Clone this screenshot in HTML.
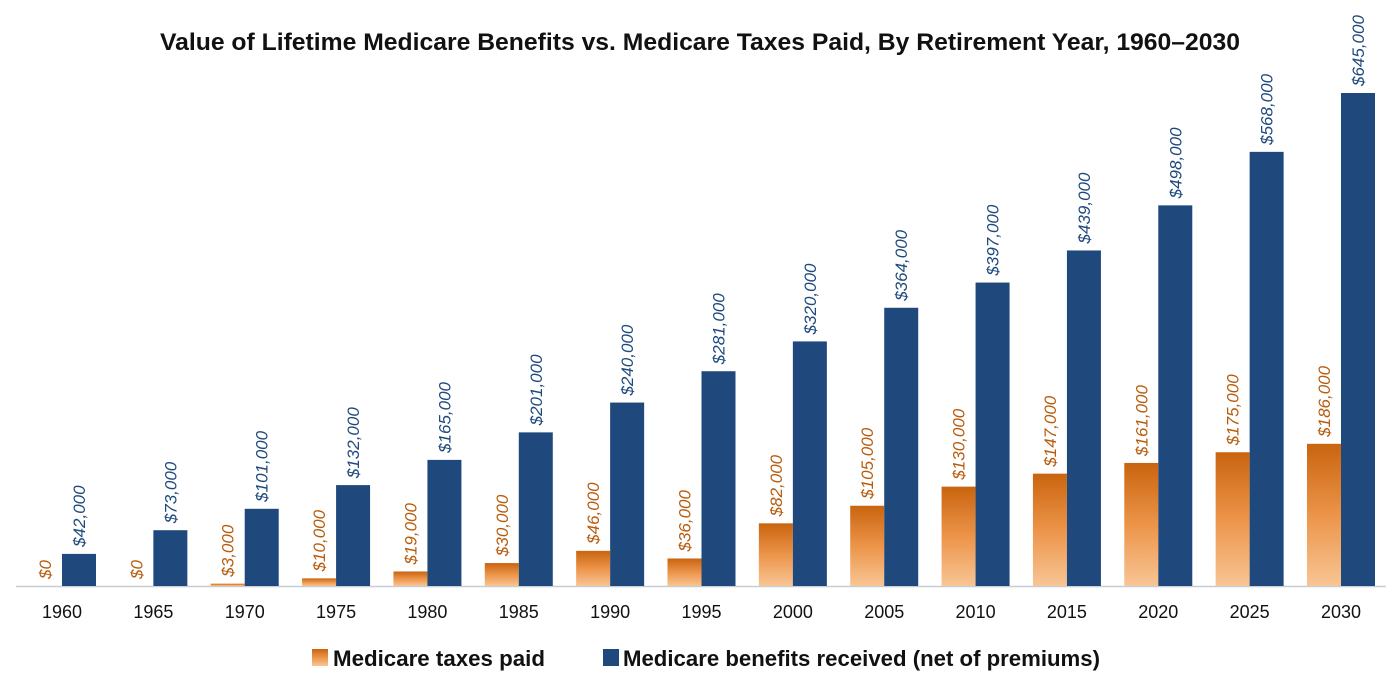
<!DOCTYPE html>
<html><head><meta charset="utf-8"><style>
html,body{margin:0;padding:0;background:#fff;}
svg{display:block;font-family:"Liberation Sans",sans-serif;}
</style></head><body>
<svg id="chart" width="1400" height="684" viewBox="0 0 1400 684">
<defs>
<linearGradient id="og" x1="0" y1="0" x2="0" y2="1">
<stop offset="0" stop-color="#c9640f"/><stop offset="0.5" stop-color="#ec9449"/><stop offset="1" stop-color="#f8c594"/>
</linearGradient>
</defs>
<text x="700" y="50" text-anchor="middle" font-size="24" font-weight="bold" fill="#111" textLength="1080" lengthAdjust="spacingAndGlyphs">Value of Lifetime Medicare Benefits vs. Medicare Taxes Paid, By Retirement Year, 1960–2030</text>
<line x1="16" y1="586.5" x2="1386" y2="586.5" stroke="#c8ccd4" stroke-width="1.5"/>
<g id="bars"></g>
<g>
<rect x="312" y="649" width="16" height="17" fill="url(#og)"/>
<text x="333" y="666" font-size="22" font-weight="bold" fill="#111" textLength="212" lengthAdjust="spacingAndGlyphs">Medicare taxes paid</text>
<rect x="603" y="649" width="16" height="17" fill="#1f497d"/>
<text x="623" y="666" font-size="22" font-weight="bold" fill="#111" textLength="477" lengthAdjust="spacingAndGlyphs">Medicare benefits received (net of premiums)</text>
</g>
</svg>
<script>
const years = ["1960","1965","1970","1975","1980","1985","1990","1995","2000","2005","2010","2015","2020","2025","2030"];
const taxes = [0,0,3000,10000,19000,30000,46000,36000,82000,105000,130000,147000,161000,175000,186000];
const benefits = [42000,73000,101000,132000,165000,201000,240000,281000,320000,364000,397000,439000,498000,568000,645000];

const NS = "http://www.w3.org/2000/svg";
const g = document.getElementById("bars");
const base = 586, topY = 93, maxV = 645000;
const x0 = 62, step = (1341 - 62) / 14, bw = 34;
function y(v){ return base - v * (base - topY) / maxV; }
function fmt(v){ return "$" + v.toLocaleString("en-US"); }
function mk(tag, attrs){ const e = document.createElementNS(NS, tag); for (const k in attrs) e.setAttribute(k, attrs[k]); g.appendChild(e); return e; }

years.forEach((yr, i) => {
  const cx = x0 + i * step;
  const t = taxes[i], b = benefits[i];
  const ty = y(t), by = y(b);
  if (t > 0) {
    const r1 = mk("rect", {x: cx - bw, y: ty, width: bw, height: base - ty, fill: "url(#og)"});
    
    
  }
  const r2 = mk("rect", {x: cx, y: by, width: bw, height: base - by, fill: "#1f497d"});
  
  
  const lx1 = cx - bw / 2 + 6, ly1 = ty - 7;
  const l1 = mk("text", {x: lx1, y: ly1, transform: "rotate(-90 " + lx1 + " " + ly1 + ")", "font-size": "17", "font-style": "italic", fill: "#b85c0c"});
  l1.textContent = fmt(t);
  
  
  const lx2 = cx + bw / 2 + 6, ly2 = by - 7;
  const l2 = mk("text", {x: lx2, y: ly2, transform: "rotate(-90 " + lx2 + " " + ly2 + ")", "font-size": "17", "font-style": "italic", fill: "#1f497d"});
  l2.textContent = fmt(b);
  
  
  const xl = mk("text", {x: cx, y: 618, "text-anchor": "middle", "font-size": "18", fill: "#111"});
  xl.textContent = yr;
  
  
});
</script>
</body></html>
